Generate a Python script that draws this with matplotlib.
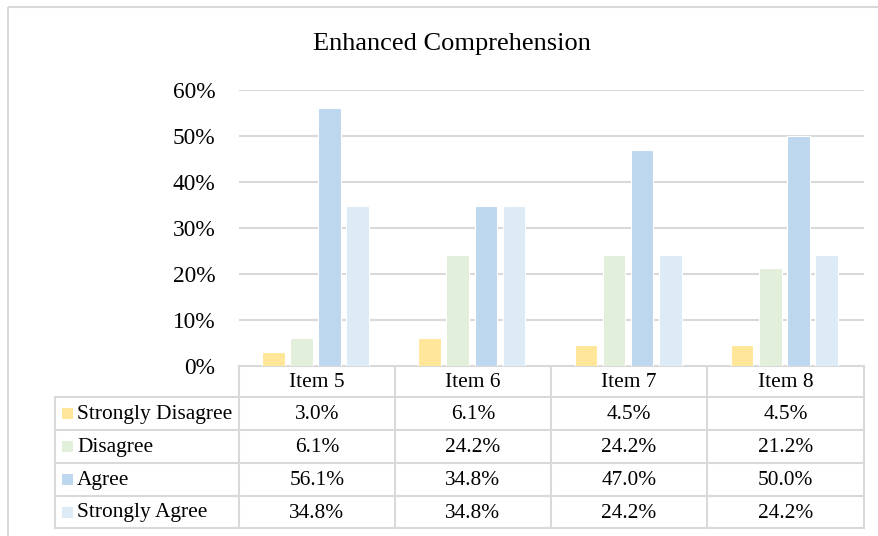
import numpy as np
import matplotlib
matplotlib.use("Agg")
import matplotlib.pyplot as plt
from matplotlib.patches import Rectangle
from matplotlib.ticker import PercentFormatter

plt.rcParams['font.family'] = ['Liberation Serif', 'DejaVu Serif']

title = "Enhanced Comprehension"
items = ["Item 5", "Item 6", "Item 7", "Item 8"]
series = ["Strongly Disagree", "Disagree", "Agree", "Strongly Agree"]
strongly_disagree = [3.0, 6.1, 4.5, 4.5]
disagree = [6.1, 24.2, 24.2, 21.2]
agree = [56.1, 34.8, 47.0, 50.0]
strongly_agree = [34.8, 34.8, 24.2, 24.2]
values = [strongly_disagree, disagree, agree, strongly_agree]
colors = ["#FFE699", "#E2EFDA", "#BDD7EE", "#DDEBF7"]

W, H = 879, 536
fig = plt.figure(figsize=(W / 100, H / 100), dpi=100)

def fx(px):
    return px / W

def fy(py):
    return 1 - py / H

# chart area border
overlay = fig.add_axes([0, 0, 1, 1])
overlay.set_xlim(0, W)
overlay.set_ylim(H, 0)
overlay.axis("off")
grid_c = "#D9D9D9"
overlay.plot([8, 8], [6.5, H], color=grid_c, lw=1.5, solid_capstyle="butt")
overlay.plot([8, W], [6.5, 6.5], color=grid_c, lw=1.5, solid_capstyle="butt")

# plot area
x0, x1 = 239, 864
y_top, y_zero = 90, 366
ax = fig.add_axes([fx(x0), fy(y_zero), fx(x1) - fx(x0), fy(y_top) - fy(y_zero)])
n = len(series)
x = np.arange(len(items))
bw = 0.145
step = 0.18
for i, (vals, c) in enumerate(zip(values, colors)):
    ax.bar(x + (i - (n - 1) / 2) * step - 0.01, vals, width=bw, color=c,
           edgecolor="white", linewidth=0.8, zorder=3)
ax.set_xlim(-0.5, len(items) - 0.5)
ax.set_ylim(0, 60)
ax.set_yticks(np.arange(0, 61, 10))
ax.yaxis.set_major_formatter(PercentFormatter(decimals=0))
ax.tick_params(axis="y", length=0, pad=17, labelsize=16.8, colors="#000000")
ax.set_xticks([])
ax.grid(axis="y", color=grid_c, lw=1.5, zorder=0)
for s in ax.spines.values():
    s.set_visible(False)

fig.text(0.5 * (fx(313) + fx(590)), fy(44), title, ha="center", va="center",
         fontsize=19)

# data table beneath the plot
col_edges = [x0, 395, 551, 707, x1]
row_edges = [366, 397, 430, 463, 496, 528]
label_left = 55
tbl_c = "#D9D9D9"
lw = 1.5
overlay.plot([x0, x1], [row_edges[0], row_edges[0]], color=tbl_c, lw=lw)
for r in row_edges[1:]:
    overlay.plot([label_left, x1], [r, r], color=tbl_c, lw=lw)
for cx in col_edges:
    overlay.plot([cx, cx], [row_edges[0], row_edges[-1]], color=tbl_c, lw=lw)
overlay.plot([label_left, label_left], [row_edges[1], row_edges[-1]], color=tbl_c, lw=lw)

fs = 15.4
for j, name in enumerate(items):
    cx = 0.5 * (col_edges[j] + col_edges[j + 1])
    overlay.text(cx, 0.5 * (row_edges[0] + row_edges[1]) + 1, name,
                 ha="center", va="center", fontsize=fs)
for i, name in enumerate(series):
    cy = 0.5 * (row_edges[i + 1] + row_edges[i + 2])
    overlay.add_patch(Rectangle((62, cy - 5.5), 11, 11, facecolor=colors[i],
                                edgecolor="none"))
    overlay.text(77, cy + 1, name, ha="left", va="center", fontsize=fs)
    for j in range(len(items)):
        cx = 0.5 * (col_edges[j] + col_edges[j + 1])
        overlay.text(cx, cy + 1, f"{values[i][j]:.1f}%", ha="center",
                     va="center", fontsize=fs)

fig.savefig("out.png", dpi=100)
